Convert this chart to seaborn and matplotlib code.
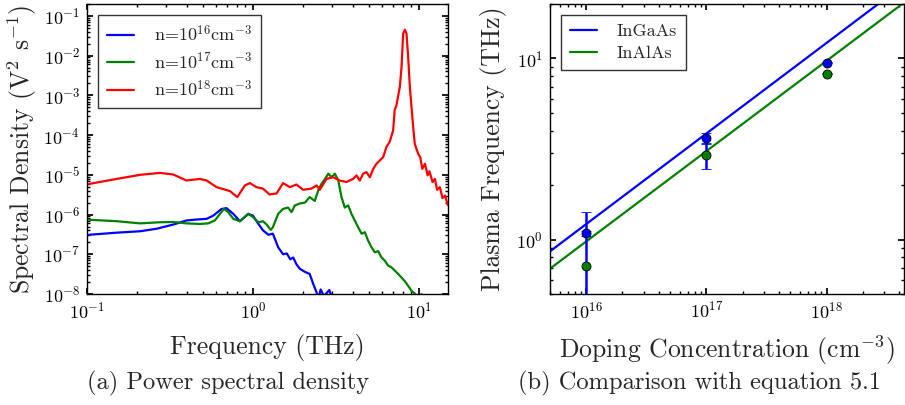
import numpy as np
import pandas as pd
import matplotlib
matplotlib.use("Agg")
import matplotlib.pyplot as plt
import seaborn as sns

# ---------------- data ----------------
# (a) power spectral density, frequency in THz, density in V^2 s^-1
freq_1e16 = [0.103, 0.151, 0.209, 0.263, 0.331, 0.398, 0.458, 0.526, 0.577, 0.647,
             0.693, 0.762, 0.835, 0.938, 1.0, 1.08, 1.15, 1.24, 1.32, 1.42,
             1.52, 1.60, 1.68, 1.75, 1.83, 1.92, 2.06, 2.20, 2.31, 2.42,
             2.48, 2.56, 2.68, 2.89, 3.02, 3.12]
psd_1e16 = [3.1e-7, 3.5e-7, 3.8e-7, 4.4e-7, 5.6e-7, 7.1e-7, 7.5e-7, 7.8e-7, 9.4e-7, 1.38e-6,
            1.45e-6, 1.04e-6, 6.8e-7, 1.04e-6, 9.4e-7, 5.8e-7, 4.0e-7, 3.1e-7, 3.3e-7, 1.5e-7,
            1.0e-7, 1.05e-7, 7.5e-8, 8.3e-8, 5.6e-8, 4.3e-8, 3.6e-8, 3.2e-8, 1.8e-8, 1.1e-8,
            7.4e-9, 1.3e-8, 8.9e-9, 1.26e-8, 7.4e-9, 2.1e-9]

freq_1e17 = [0.103, 0.151, 0.209, 0.275, 0.331, 0.398, 0.48, 0.538, 0.590, 0.633,
             0.669, 0.710, 0.762, 0.835, 0.938, 1.0, 1.08, 1.15, 1.21, 1.28,
             1.32, 1.42, 1.52, 1.63, 1.71, 1.79, 1.92, 2.06, 2.20, 2.36,
             2.48, 2.59, 2.72, 2.85, 2.98, 3.12, 3.27, 3.42, 3.58, 3.75,
             3.93, 4.11, 4.31, 4.52, 4.73, 4.95, 5.19, 5.43, 5.69, 5.96,
             6.24, 6.53, 6.84, 7.16, 7.51, 7.87, 8.24, 8.63, 9.04, 9.46,
             9.91, 10.4, 10.7]
psd_1e17 = [7.4e-7, 6.8e-7, 6.0e-7, 6.4e-7, 6.5e-7, 6.0e-7, 5.8e-7, 6.0e-7, 7.1e-7, 1.04e-6,
            1.39e-6, 1.15e-6, 7.8e-7, 6.8e-7, 1.04e-6, 8.7e-7, 6.4e-7, 6.8e-7, 5.6e-7, 4.1e-7,
            4.8e-7, 1.04e-6, 1.39e-6, 1.5e-6, 1.15e-6, 1.7e-6, 1.9e-6, 2.0e-6, 2.75e-6, 2.2e-6,
            4.1e-6, 5.9e-6, 7.9e-6, 1.07e-5, 8.7e-6, 1.07e-5, 7.2e-6, 2.75e-6, 1.5e-6, 1.7e-6,
            1.04e-6, 7.1e-7, 4.8e-7, 3.3e-7, 3.6e-7, 2.2e-7, 1.5e-7, 1.12e-7, 1.2e-7, 8.3e-8,
            6.9e-8, 5.2e-8, 4.7e-8, 3.9e-8, 3.2e-8, 2.6e-8, 2.1e-8, 1.6e-8, 1.2e-8, 1.03e-8,
            8.0e-9, 1.0e-8, 3.0e-9]

freq_1e18 = [0.103, 0.151, 0.209, 0.275, 0.331, 0.398, 0.48, 0.526, 0.604, 0.727,
             0.805, 0.895, 0.96, 1.05, 1.15, 1.26, 1.39, 1.52, 1.67, 1.83,
             2.01, 2.25, 2.42, 2.53, 2.78, 3.05, 3.34, 3.66, 4.02, 4.21,
             4.41, 4.62, 4.84, 5.07, 5.31, 5.56, 5.82, 6.10, 6.38, 6.68,
             7.0, 7.16, 7.33, 7.69, 7.87, 8.05, 8.24, 8.43, 8.63, 8.83,
             9.04, 9.25, 9.46, 9.91, 10.2, 10.5, 10.9, 11.3, 11.6, 12.1,
             12.5, 12.9, 13.4, 13.9, 14.4, 14.9, 15.5]
psd_1e18 = [5.9e-6, 7.9e-6, 1.0e-5, 1.12e-5, 1.02e-5, 7.2e-6, 7.9e-6, 7.2e-6, 4.9e-6, 3.9e-6,
            2.75e-6, 5.4e-6, 6.2e-6, 4.9e-6, 4.5e-6, 3.2e-6, 3.4e-6, 6.2e-6, 4.9e-6, 5.7e-6,
            4.2e-6, 4.5e-6, 5.4e-6, 4.2e-6, 7.9e-6, 8.7e-6, 7.2e-6, 6.6e-6, 7.9e-6, 9.7e-6,
            7.2e-6, 1.07e-5, 1.17e-5, 8.7e-6, 1.41e-5, 1.9e-5, 2.3e-5, 2.8e-5, 5.0e-5, 6.8e-5,
            1.3e-4, 4.3e-4, 5.6e-4, 1.66e-3, 5.2e-3, 3.6e-2, 4.5e-2, 3.6e-2, 9.3e-3, 1.66e-3,
            5.1e-4, 1.6e-4, 6.0e-5, 3.4e-5, 2.8e-5, 1.41e-5, 1.9e-5, 9.7e-6, 1.23e-5, 6.6e-6,
            7.9e-6, 4.2e-6, 4.9e-6, 2.6e-6, 3.0e-6, 1.8e-6, 1.5e-6]

# (b) plasma frequency against doping concentration
doping = [1e16, 1e17, 1e18]
ingaas_freq = [1.08, 3.63, 9.5]
ingaas_err = [0.03, 0.24, 0.05]
inalas_freq = [0.71, 2.93, 8.26]
inalas_err = [0.70, 0.48, 0.05]

# equation 5.1 evaluated at the ends of the concentration range
theory_doping = [5e15, 5e18]
ingaas_theory = [0.86, 27.3]
inalas_theory = [0.69, 21.7]

# ---------------- style ----------------
sns.set_theme(style="ticks")
plt.rcParams.update({
    "font.family": ["cmr10", "DejaVu Serif"],
    "mathtext.fontset": "cm",
    "axes.formatter.use_mathtext": True,
    "axes.unicode_minus": False,
    "axes.edgecolor": "black",
    "axes.linewidth": 1.0,
    "xtick.direction": "in",
    "ytick.direction": "in",
    "xtick.top": True,
    "ytick.right": True,
    "xtick.major.size": 4,
    "ytick.major.size": 4,
    "xtick.minor.size": 2,
    "ytick.minor.size": 2,
    "xtick.color": "black",
    "ytick.color": "black",
    "xtick.labelsize": 13,
    "ytick.labelsize": 13,
    "xtick.major.pad": 5,
    "ytick.major.pad": 5,
})

fig = plt.figure(figsize=(9.05, 4.05), dpi=100)
ax1 = fig.add_axes([87 / 905, 111 / 405, 361 / 905, 290 / 405])
ax2 = fig.add_axes([550 / 905, 111 / 405, 354 / 905, 290 / 405])

BLUE, GREEN, RED = "#0000ff", "#008000", "#ff0000"
LABEL_SIZE = 18.5

# ---------------- (a) spectral density ----------------
curves = [
    (freq_1e16, psd_1e16, BLUE, r"n=10$^{16}$cm$^{-3}$"),
    (freq_1e17, psd_1e17, GREEN, r"n=10$^{17}$cm$^{-3}$"),
    (freq_1e18, psd_1e18, RED, r"n=10$^{18}$cm$^{-3}$"),
]
for f, s, c, lab in curves:
    df = pd.DataFrame({"f": f, "s": s})
    sns.lineplot(data=df, x="f", y="s", ax=ax1, color=c, lw=1.6, label=lab,
                 sort=False, estimator=None)

ax1.set_xscale("log")
ax1.set_yscale("log")
ax1.set_xlim(0.1, 15)
ax1.set_ylim(1e-8, 0.2)
ax1.set_xlabel("Frequency (THz)", fontsize=LABEL_SIZE)
ax1.set_ylabel(r"Spectral Density (V$^2$ s$^{-1}$)", fontsize=LABEL_SIZE)
ax1.xaxis.set_label_coords(0.5, -0.138)
ax1.yaxis.set_label_coords(-0.133, 0.5)
ax1.yaxis.set_major_locator(matplotlib.ticker.LogLocator(base=10, numticks=20))
ax1.yaxis.set_minor_locator(matplotlib.ticker.LogLocator(base=10, subs=np.arange(2, 10), numticks=20))
ax1.yaxis.set_minor_formatter(matplotlib.ticker.NullFormatter())
leg1 = ax1.legend(loc="upper left", fontsize=13, frameon=True, fancybox=False,
                  edgecolor="black", handlelength=1.5, handletextpad=1.1,
                  labelspacing=0.4, borderpad=0.5, borderaxespad=0.6)
leg1.get_frame().set_linewidth(1.0)

# ---------------- (b) plasma frequency ----------------
for y, c, lab in [(ingaas_theory, BLUE, "InGaAs"), (inalas_theory, GREEN, "InAlAs")]:
    df = pd.DataFrame({"n": theory_doping, "f": y})
    sns.lineplot(data=df, x="n", y="f", ax=ax2, color=c, lw=1.6, label=lab)

for y, e, c in [(ingaas_freq, ingaas_err, BLUE), (inalas_freq, inalas_err, GREEN)]:
    ax2.errorbar(doping, y, yerr=e, fmt="o", color=c, ecolor=BLUE, elinewidth=1.8,
                 capsize=3.5, capthick=1.8, markersize=6.5, markeredgecolor="black",
                 markeredgewidth=0.6, zorder=3)

ax2.set_xscale("log")
ax2.set_yscale("log")
ax2.set_xlim(5e15, 4.4e18)
ax2.set_ylim(0.5, 20)
ax2.set_xlabel(r"Doping Concentration (cm$^{-3}$)", fontsize=LABEL_SIZE)
ax2.set_ylabel("Plasma Frequency (THz)", fontsize=LABEL_SIZE)
ax2.xaxis.set_label_coords(0.5, -0.138)
ax2.yaxis.set_label_coords(-0.121, 0.5)
ax2.yaxis.set_minor_formatter(matplotlib.ticker.NullFormatter())
leg2 = ax2.legend(loc="upper left", fontsize=13, frameon=True, fancybox=False,
                  edgecolor="black", handlelength=1.5, handletextpad=1.1,
                  labelspacing=0.33, borderpad=0.5, borderaxespad=0.6)
leg2.get_frame().set_linewidth(1.0)

# ---------------- captions ----------------
fig.text(228 / 905, 1 - 383 / 405, "(a) Power spectral density", ha="center",
         va="center", fontsize=17.6)
fig.text(699 / 905, 1 - 383 / 405, "(b) Comparison with equation 5.1", ha="center",
         va="center", fontsize=17.6)

fig.savefig("out.png", dpi=100)
